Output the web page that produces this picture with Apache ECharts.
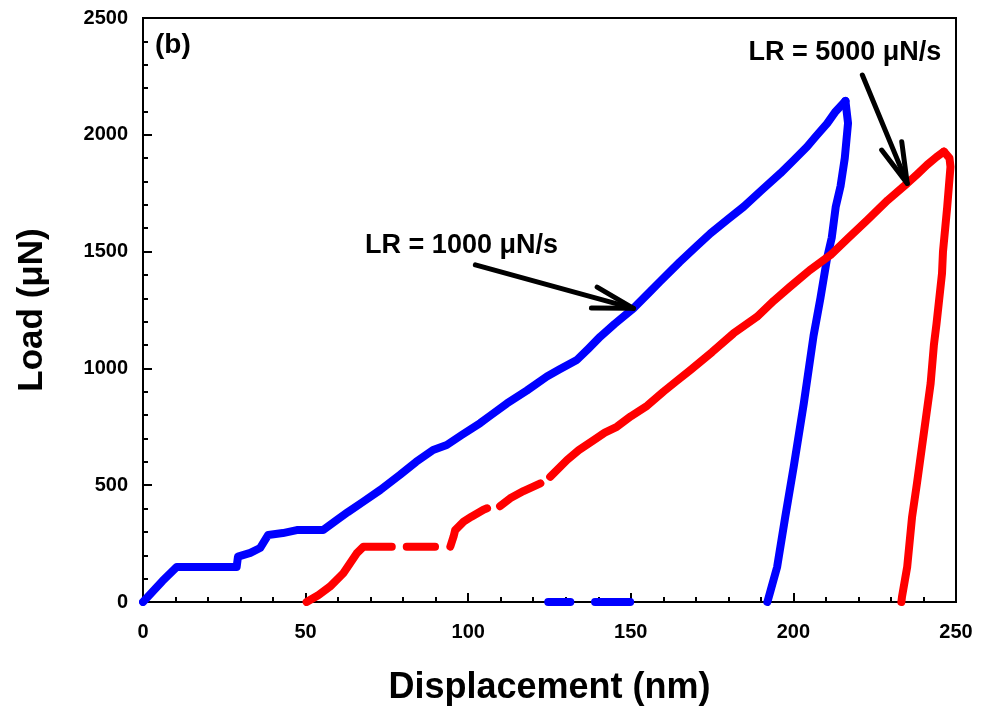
<!DOCTYPE html>
<html>
<head>
<meta charset="utf-8">
<script src="https://cdn.jsdelivr.net/npm/echarts@6/dist/echarts.min.js"></script>
<style>
  html, body { margin: 0; padding: 0; background: #fff; }
  #chart { width: 985px; height: 717px; }
</style>
</head>
<body>
<div id="chart"></div>
<script>
// Load–displacement curves for two loading rates (nm, µN).
// null marks a break in the recorded trace.
const blueLoadDisp = [0, 3, 6, 10.4, 28.8, 29.2, 33, 36, 38.5, 43, 47.3, 55.4, 59.6, 63, 67.7, 73, 79, 84, 89.2, 93.4, 98, 103.7, 107, 111.9, 118, 124.2, 128, 133.4, 137, 140.6, 145, 150.8, 156, 159, 165, 170, 174.5, 180, 184.7, 190, 196, 200, 204.2, 207, 210.4, 213, 216];
const blueLoadLoad = [0, 45, 90, 150, 150, 194, 210, 231, 287, 295, 308, 308, 351, 385, 429, 480, 544, 600, 651, 672, 715, 766, 800, 850, 905, 965, 995, 1036, 1085, 1136, 1190, 1257, 1330, 1372, 1455, 1520, 1578, 1640, 1692, 1760, 1835, 1890, 1949, 1995, 2049, 2100, 2145];

const blueUnloadDisp = [216, 216.8, 215.8, 214.5, 213, 211.8, 210.4, 208.3, 206.2, 203.2, 200.1, 197.5, 195, 193, 192];
const blueUnloadLoad = [2145, 2050, 1900, 1780, 1690, 1560, 1475, 1300, 1140, 850, 580, 365, 150, 50, 0];

const blueBaseDisp = [124.6, 131.4, 135, 139, 149.8];
const blueBaseLoad = [0, 0, null, 0, 0];

const redLoadDisp = [50.3, 54, 57.5, 61.6, 65.7, 67.8, 76.5, 79, 81.1, 89.8, 92, 94.5, 95.5, 96, 98.6, 101, 104.7, 105.8, 108, 109.8, 112.9, 117, 122.2, 123.5, 125.2, 130.4, 134, 138.6, 142, 145.7, 150, 155, 160, 164, 168.3, 175, 181.6, 188.8, 194, 199, 205, 211.4, 217, 222.7, 229, 235, 238, 241.1, 244, 246.3];
const redLoadLoad = [0, 30, 66, 123, 208, 237, 237, null, 237, 237, null, 237, 280, 308, 344, 365, 395, 401, null, 410, 444, 475, 508, null, 536, 608, 650, 693, 725, 750, 795, 840, 900, 945, 993, 1070, 1150, 1221, 1290, 1350, 1420, 1485, 1560, 1635, 1720, 1792, 1830, 1871, 1905, 1928];

const redUnloadDisp = [246.3, 248, 248.3, 247.3, 246, 245.7, 244, 243.2, 242.2, 240.1, 238, 236.5, 235, 233.4, 233.2];
const redUnloadLoad = [1928, 1900, 1863, 1692, 1500, 1407, 1190, 1100, 936, 722, 508, 365, 151, 23, 0];

const xTicks = { min: 0, max: 250, step: 50 };
const yTicks = { min: 0, max: 2500, step: 500 };

// Annotation anchors in data units: arrow tail -> arrow tip on the curve
const labelLR1000 = 'LR = 1000 \u03bcN/s';
const labelLR5000 = 'LR = 5000 \u03bcN/s';
const panelTag = '(b)';
const arrow1000 = { tail: [102.2, 1443], tip: [150.8, 1257] };
const arrow5000 = { tail: [221.2, 2256], tip: [235, 1792] };

const BLUE = '#0000ff';
const RED = '#ff0000';
const FONT = 'Liberation Sans';

function pairs(xs, ys) {
  return xs.map((x, i) => [x, ys[i] === null ? '-' : ys[i]]);
}

function curve(name, xs, ys, color) {
  return {
    name: name,
    type: 'line',
    data: pairs(xs, ys),
    showSymbol: false,
    connectNulls: false,
    lineStyle: { color: color, width: 8, cap: 'round', join: 'round' },
    itemStyle: { color: color },
    z: 3
  };
}

const chart = echarts.init(document.getElementById('chart'));

const axisCommon = {
  axisLine: { show: true, onZero: false, lineStyle: { color: '#000', width: 2 } },
  axisTick: { show: true, inside: true, length: 9, lineStyle: { color: '#000', width: 2 } },
  minorTick: { show: true, splitNumber: 5, length: 5, lineStyle: { color: '#000', width: 2 } },
  splitLine: { show: false },
  axisLabel: { color: '#000', fontFamily: FONT, fontWeight: 'bold', fontSize: 20, formatter: v => String(v) },
  nameTextStyle: { color: '#000', fontFamily: FONT, fontWeight: 'bold', fontSize: 36 }
};

chart.setOption({
  animation: false,
  backgroundColor: '#fff',
  grid: { left: 143, right: 29, top: 18, bottom: 115, show: true, borderColor: '#000', borderWidth: 2, backgroundColor: 'transparent' },
  xAxis: Object.assign({}, axisCommon, {
    type: 'value', min: xTicks.min, max: xTicks.max, interval: xTicks.step,
    name: 'Displacement (nm)', nameLocation: 'middle', nameGap: 68,
    axisLabel: Object.assign({}, axisCommon.axisLabel, { margin: 20 })
  }),
  yAxis: Object.assign({}, axisCommon, {
    type: 'value', min: yTicks.min, max: yTicks.max, interval: yTicks.step,
    name: 'Load (\u03bcN)', nameLocation: 'middle', nameGap: 93, nameRotate: 90,
    nameTextStyle: Object.assign({}, axisCommon.nameTextStyle, { fontSize: 35 }),
    axisLabel: Object.assign({}, axisCommon.axisLabel, { margin: 15 })
  }),
  series: [
    curve('LR 1000 loading', blueLoadDisp, blueLoadLoad, BLUE),
    curve('LR 1000 unloading', blueUnloadDisp, blueUnloadLoad, BLUE),
    curve('LR 1000 baseline', blueBaseDisp, blueBaseLoad, BLUE),
    curve('LR 5000 loading', redLoadDisp, redLoadLoad, RED),
    curve('LR 5000 unloading', redUnloadDisp, redUnloadLoad, RED)
  ]
});

// Arrows and text labels, placed through the axes' own conversion
function toPx(p) { return chart.convertToPixel({ gridIndex: 0 }, p); }

function arrowShapes(a) {
  const t = toPx(a.tail), h = toPx(a.tip);
  const dx = h[0] - t[0], dy = h[1] - t[1];
  const len = Math.hypot(dx, dy);
  const ux = dx / len, uy = dy / len;
  const L = 42, ang = 15 * Math.PI / 180;
  const barb = s => {
    const c = Math.cos(s * ang), sn = Math.sin(s * ang);
    const rx = ux * c - uy * sn, ry = ux * sn + uy * c;
    return [h[0] - rx * L, h[1] - ry * L];
  };
  const style = { stroke: '#000', lineWidth: 5, lineCap: 'round', lineJoin: 'round', fill: null };
  return [
    { type: 'polyline', shape: { points: [t, h] }, style: style, z: 10 },
    { type: 'polyline', shape: { points: [barb(1), h, barb(-1)] }, style: style, z: 10 }
  ];
}

function label(text, dataPos, size) {
  const p = toPx(dataPos);
  return {
    type: 'text', x: p[0], y: p[1], z: 10,
    style: { text: text, fill: '#000', font: 'bold ' + size + 'px "' + FONT + '"', textVerticalAlign: 'middle', textAlign: 'left' }
  };
}

chart.setOption({
  graphic: [].concat(
    arrowShapes(arrow1000),
    arrowShapes(arrow5000),
    [
      label(panelTag, [3.7, 2384], 28),
      label(labelLR1000, [68.3, 1528], 27),
      label(labelLR5000, [186.2, 2354], 27)
    ]
  )
});
</script>
</body>
</html>
